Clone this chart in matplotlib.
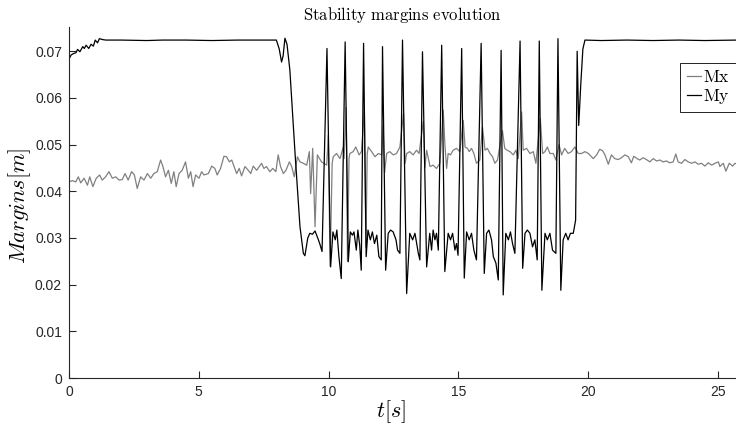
import matplotlib
matplotlib.use("Agg")
import matplotlib.pyplot as plt

plt.rcParams['mathtext.fontset'] = 'cm'
plt.rcParams['font.family'] = ['Liberation Sans', 'DejaVu Sans']

# ---- data ----
t_mx = [0.00, 0.13, 0.26, 0.36, 0.45, 0.58, 0.71, 0.80, 0.92, 1.05, 1.18, 1.28, 1.41, 1.54, 1.67,
        1.80, 1.93, 2.05, 2.16, 2.28, 2.41, 2.52, 2.63, 2.76, 2.89, 3.02, 3.15, 3.27, 3.40, 3.53,
        3.62, 3.72, 3.83, 3.94, 4.04, 4.13, 4.24, 4.36, 4.49, 4.60, 4.69, 4.78, 4.88, 5.01, 5.11,
        5.20, 5.37, 5.50, 5.62, 5.71, 5.84, 5.97, 6.07, 6.18, 6.27, 6.36, 6.46, 6.56, 6.65, 6.78,
        6.91, 7.00, 7.10, 7.23, 7.33, 7.42, 7.51, 7.61, 7.74, 7.85, 7.97, 8.06, 8.15, 8.26, 8.36,
        8.49, 8.58, 8.68, 8.80, 8.90, 9.03, 9.16, 9.26, 9.31, 9.39, 9.48, 9.57, 9.73, 9.93, 9.99,
        10.06, 10.14, 10.18, 10.31, 10.44, 10.57, 10.60, 10.68, 10.73, 10.79, 10.82, 10.95, 11.05,
        11.18, 11.27, 11.38, 11.44, 11.49, 11.53, 11.66, 11.79, 11.92, 12.05, 12.10, 12.16, 12.24,
        12.36, 12.49, 12.62, 12.75, 12.89, 12.95, 13.01, 13.13, 13.26, 13.39, 13.49, 13.65, 13.71,
        13.78, 13.91, 14.03, 14.16, 14.29, 14.42, 14.48, 14.55, 14.61, 14.70, 14.80, 14.93, 15.06,
        15.19, 15.26, 15.35, 15.42, 15.51, 15.60, 15.70, 15.83, 15.93, 16.03, 16.12, 16.22, 16.32,
        16.41, 16.51, 16.70, 16.79, 16.88, 16.99, 17.12, 17.22, 17.31, 17.44, 17.50, 17.63, 17.76,
        17.89, 17.99, 18.16, 18.25, 18.34, 18.43, 18.53, 18.66, 18.76, 18.88, 18.98, 19.10, 19.23,
        19.36, 19.49, 19.62, 19.75, 19.88, 20.01, 20.13, 20.20, 20.33, 20.45, 20.56, 20.65, 20.78,
        20.90, 21.03, 21.16, 21.29, 21.42, 21.55, 21.67, 21.76, 21.89, 21.99, 22.12, 22.25, 22.38,
        22.51, 22.64, 22.77, 22.89, 23.02, 23.15, 23.28, 23.38, 23.47, 23.60, 23.73, 23.86, 23.99,
        24.12, 24.24, 24.37, 24.50, 24.63, 24.76, 24.89, 25.02, 25.08, 25.21, 25.31, 25.44, 25.57,
        25.66, 25.75]
mx = [0.0420, 0.0423, 0.0420, 0.0431, 0.0418, 0.0428, 0.0413, 0.0431, 0.0410, 0.0428, 0.0435, 0.0424,
      0.0431, 0.0442, 0.0428, 0.0431, 0.0424, 0.0425, 0.0438, 0.0424, 0.0442, 0.0435, 0.0406, 0.0431,
      0.0424, 0.0438, 0.0428, 0.0438, 0.0442, 0.0467, 0.0453, 0.0431, 0.0445, 0.0417, 0.0442, 0.0410,
      0.0438, 0.0445, 0.0463, 0.0428, 0.0442, 0.0410, 0.0435, 0.0428, 0.0442, 0.0435, 0.0438, 0.0454,
      0.0449, 0.0435, 0.0449, 0.0475, 0.0474, 0.0463, 0.0467, 0.0453, 0.0438, 0.0449, 0.0433, 0.0453,
      0.0445, 0.0438, 0.0454, 0.0445, 0.0453, 0.0460, 0.0449, 0.0453, 0.0442, 0.0449, 0.0442, 0.0478,
      0.0453, 0.0438, 0.0445, 0.0463, 0.0453, 0.0431, 0.0474, 0.0463, 0.0460, 0.0456, 0.0485, 0.0395,
      0.0492, 0.0324, 0.0478, 0.0463, 0.0456, 0.0520, 0.0240, 0.0460, 0.0474, 0.0481, 0.0470, 0.0495,
      0.0470, 0.0580, 0.0250, 0.0470, 0.0481, 0.0485, 0.0495, 0.0478, 0.0485, 0.0575, 0.0280, 0.0480,
      0.0495, 0.0485, 0.0474, 0.0481, 0.0478, 0.0540, 0.0440, 0.0481, 0.0485, 0.0478, 0.0481, 0.0495,
      0.0567, 0.0460, 0.0481, 0.0485, 0.0478, 0.0488, 0.0481, 0.0550, 0.0450, 0.0488, 0.0453, 0.0456,
      0.0449, 0.0460, 0.0574, 0.0503, 0.0449, 0.0481, 0.0478, 0.0488, 0.0492, 0.0485, 0.0552, 0.0495,
      0.0492, 0.0485, 0.0492, 0.0481, 0.0460, 0.0467, 0.0538, 0.0488, 0.0492, 0.0481, 0.0474, 0.0460,
      0.0467, 0.0530, 0.0492, 0.0488, 0.0485, 0.0478, 0.0488, 0.0470, 0.0570, 0.0488, 0.0492, 0.0481,
      0.0485, 0.0460, 0.0556, 0.0481, 0.0485, 0.0495, 0.0481, 0.0481, 0.0467, 0.0500, 0.0478, 0.0492,
      0.0481, 0.0485, 0.0495, 0.0481, 0.0481, 0.0485, 0.0481, 0.0474, 0.0470, 0.0478, 0.0490, 0.0487,
      0.0478, 0.0458, 0.0478, 0.0470, 0.0468, 0.0472, 0.0478, 0.0474, 0.0461, 0.0475, 0.0470, 0.0467,
      0.0472, 0.0468, 0.0463, 0.0470, 0.0465, 0.0467, 0.0463, 0.0465, 0.0461, 0.0463, 0.0480, 0.0463,
      0.0460, 0.0468, 0.0463, 0.0460, 0.0463, 0.0458, 0.0460, 0.0454, 0.0461, 0.0456, 0.0460, 0.0463,
      0.0453, 0.0460, 0.0443, 0.0460, 0.0454, 0.0460, 0.0458]

t_my = [0.00, 0.08, 0.17, 0.27, 0.33, 0.42, 0.53, 0.59, 0.66, 0.76, 0.85, 0.94, 1.01, 1.10, 1.17,
        1.30, 1.42, 2.00, 3.00, 3.60, 4.50, 5.50, 6.50, 7.30, 7.99, 8.10, 8.19, 8.25, 8.32, 8.40,
        8.51, 8.71, 8.90, 9.03, 9.09, 9.20, 9.28, 9.38, 9.48, 9.59, 9.66, 9.75, 9.94, 10.08, 10.17,
        10.26, 10.32, 10.40, 10.49, 10.64, 10.76, 10.84, 10.92, 10.98, 11.07, 11.13, 11.20, 11.26,
        11.35, 11.45, 11.52, 11.61, 11.69, 11.77, 11.86, 11.94, 12.03, 12.08, 12.20, 12.30, 12.39,
        12.49, 12.60, 12.66, 12.75, 12.85, 13.01, 13.13, 13.24, 13.33, 13.46, 13.52, 13.62, 13.78,
        13.90, 13.97, 14.03, 14.10, 14.16, 14.23, 14.36, 14.48, 14.61, 14.70, 14.78, 14.87, 14.93,
        14.99, 15.13, 15.23, 15.32, 15.42, 15.51, 15.60, 15.70, 15.88, 16.00, 16.09, 16.18, 16.28,
        16.35, 16.45, 16.54, 16.65, 16.73, 16.83, 16.93, 17.01, 17.09, 17.18, 17.38, 17.48, 17.57,
        17.66, 17.76, 17.86, 17.95, 18.04, 18.12, 18.22, 18.34, 18.43, 18.53, 18.63, 18.76, 18.84,
        18.95, 19.04, 19.14, 19.23, 19.32, 19.43, 19.52, 19.58, 19.64, 19.72, 19.80, 19.88, 20.50,
        21.50, 22.50, 23.50, 24.50, 25.75]
my = [0.0683, 0.0692, 0.0695, 0.0697, 0.0704, 0.0699, 0.0710, 0.0706, 0.0713, 0.0706, 0.0715, 0.0711,
      0.0724, 0.0718, 0.0727, 0.0725, 0.0724, 0.0724, 0.0723, 0.0724, 0.0724, 0.0723, 0.0724, 0.0724,
      0.0724, 0.0705, 0.0677, 0.0690, 0.0728, 0.0715, 0.0660, 0.0481, 0.0324, 0.0267, 0.0262, 0.0300,
      0.0310, 0.0308, 0.0315, 0.0299, 0.0288, 0.0271, 0.0706, 0.0238, 0.0313, 0.0296, 0.0317, 0.0260,
      0.0213, 0.0720, 0.0249, 0.0313, 0.0306, 0.0313, 0.0274, 0.0317, 0.0285, 0.0231, 0.0717, 0.0260,
      0.0317, 0.0296, 0.0313, 0.0288, 0.0306, 0.0260, 0.0253, 0.0710, 0.0231, 0.0310, 0.0317, 0.0313,
      0.0296, 0.0274, 0.0267, 0.0724, 0.0181, 0.0310, 0.0296, 0.0310, 0.0267, 0.0253, 0.0699, 0.0238,
      0.0310, 0.0274, 0.0317, 0.0296, 0.0310, 0.0274, 0.0713, 0.0228, 0.0310, 0.0296, 0.0310, 0.0274,
      0.0288, 0.0263, 0.0706, 0.0214, 0.0313, 0.0296, 0.0310, 0.0274, 0.0253, 0.0717, 0.0224, 0.0310,
      0.0317, 0.0296, 0.0260, 0.0246, 0.0210, 0.0702, 0.0178, 0.0310, 0.0296, 0.0313, 0.0288, 0.0267,
      0.0722, 0.0235, 0.0310, 0.0317, 0.0310, 0.0281, 0.0296, 0.0253, 0.0722, 0.0188, 0.0310, 0.0296,
      0.0310, 0.0274, 0.0267, 0.0727, 0.0188, 0.0296, 0.0310, 0.0296, 0.0310, 0.0310, 0.0338, 0.0700,
      0.0541, 0.0630, 0.0705, 0.0724, 0.0723, 0.0724, 0.0723, 0.0724, 0.0723, 0.0724]

x_ticks = [0, 5, 10, 15, 20, 25]
y_ticks = [0, 0.01, 0.02, 0.03, 0.04, 0.05, 0.06, 0.07]
y_tick_labels = ['0', '0.01', '0.02', '0.03', '0.04', '0.05', '0.06', '0.07']
series_names = ['Mx', 'My']

# ---- figure ----
fig = plt.figure(figsize=(7.36, 4.30), dpi=100)
ax = fig.add_axes([69 / 736, 52 / 430, 667 / 736, 351 / 430])

ax.plot(t_mx, mx, color='#808080', lw=0.9, label=series_names[0])
ax.plot(t_my, my, color='#000000', lw=0.9, label=series_names[1])

ax.set_xlim(0, 25.7)
ax.set_ylim(0, 0.0752)
ax.set_xticks(x_ticks)
ax.set_xticklabels([str(v) for v in x_ticks])
ax.set_yticks(y_ticks)
ax.set_yticklabels(y_tick_labels)

for s in ['top', 'right']:
    ax.spines[s].set_visible(False)
for s in ['left', 'bottom']:
    ax.spines[s].set_color('#262626')
    ax.spines[s].set_linewidth(0.8)
ax.tick_params(direction='in', length=5, width=0.8, colors='#262626', labelsize=10, pad=5)

ax.set_title(r'$\mathrm{Stability\ margins\ evolution}$', fontsize=12, pad=5, color='#000000')
ax.set_xlabel(r'$t[s]$', fontsize=16)
ax.set_ylabel(r'$Margins[m]$', fontsize=16)
ax.xaxis.set_label_coords(0.483, -0.057)
ax.yaxis.set_label_coords(-0.0545, 0.49)

leg = ax.legend(loc='upper right', bbox_to_anchor=(1.0, 0.897),
                prop={'size': 12.5},
                handlelength=0.85, handletextpad=0.1, borderpad=0.35, labelspacing=0.1,
                fancybox=False, framealpha=1, borderaxespad=0)
leg.get_frame().set_edgecolor('#000000')
leg.get_frame().set_linewidth(0.6)
for txt in leg.get_texts():
    txt.set_text(r'$\mathrm{' + txt.get_text() + '}$')

fig.savefig('out.png', dpi=100)
